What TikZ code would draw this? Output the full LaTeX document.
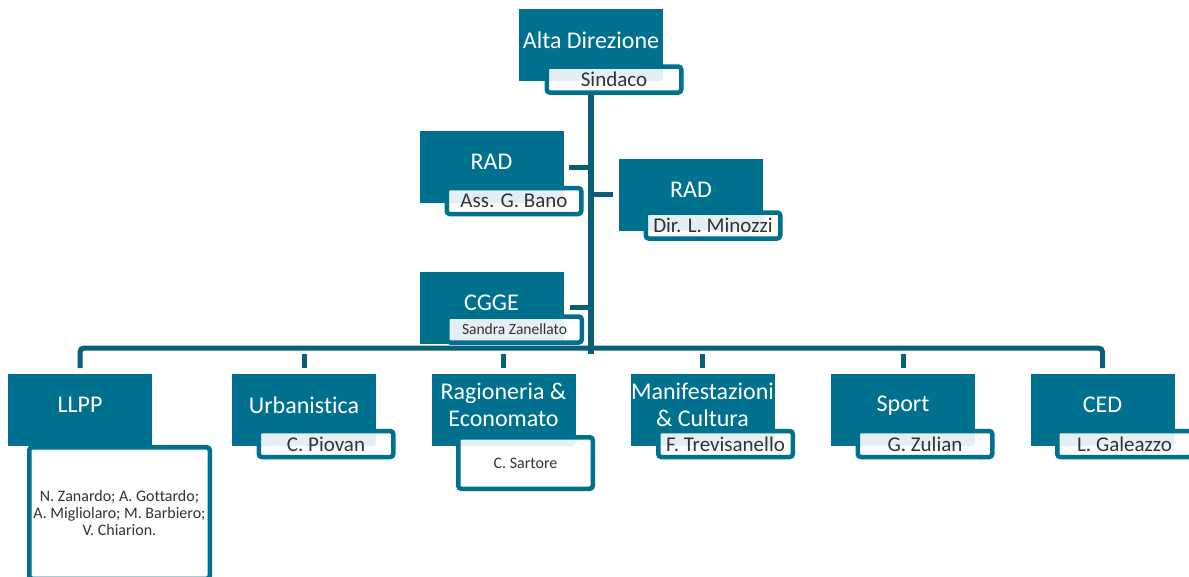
\documentclass[tikz,border=0pt]{standalone}
\usepackage{fontspec}
\setmainfont{Carlito}[Ligatures=NoCommon]
\definecolor{boxteal}{HTML}{00708F}
\definecolor{lineteal}{HTML}{0A5F78}
\definecolor{tint}{HTML}{E3EFF2}
\definecolor{labtext}{HTML}{333333}
\begin{document}
\begin{tikzpicture}[x=1pt,y=-1pt,
  mainbox/.style={fill=boxteal, minimum width=144pt, minimum height=72pt, inner sep=0pt, outer sep=0pt},
  maintext/.style={text=white, font=\fontsize{24}{27}\selectfont, align=center, inner sep=0pt},
  labbase/.style={draw=boxteal, fill=white, line width=4.5pt, rounded corners=3pt,
    minimum width=134.5pt, minimum height=26pt, inner sep=0pt, outer sep=0pt,
    text=labtext, font=\fontsize{21}{24}\selectfont, align=center},
  labtint/.style={labbase, path picture={\fill[tint] (path picture bounding box.north west) rectangle (#1.south east);}},
  conn/.style={draw=lineteal, line width=5pt},
  trunkline/.style={draw=lineteal, line width=6pt}
]
\clip (0,0) rectangle (1189,576);
\fill[white] (0,0) rectangle (1189,576);
% main boxes
\node[mainbox] (alta) at (591,45) {};
\node[mainbox] (rad1) at (491.5,167) {};
\node[mainbox] (rad2) at (691,194.5) {};
\node[mainbox] (cgge) at (491.5,307.5) {};
\node[mainbox] (llpp) at (80,410) {};
\node[mainbox] (urb) at (304,410) {};
\node[mainbox] (rag) at (503.5,410) {};
\node[mainbox] (man) at (702.5,410) {};
\node[mainbox] (sport) at (903,410) {};
\node[mainbox] (ced) at (1102.5,410) {};
% connectors
\coordinate (bus) at (591,354);
\draw[trunkline] (alta.south) -- (bus);
\draw[conn, rounded corners=4pt] ([yshift=6pt]llpp.north) |- ([yshift=6pt]ced.north |- bus) -- ([yshift=6pt]ced.north);
\foreach \n in {urb,rag,man,sport} {\draw[conn] ([yshift=6pt]\n.north) -- (\n.north |- bus);}
\draw[conn] ([xshift=5pt]rad1.east) -- (rad1.east -| bus);
\draw[conn] ([xshift=-6pt]rad2.west) -- (rad2.west -| bus);
\draw[conn] ([xshift=6pt]cgge.east) -- (cgge.east -| bus);
% labels
\node[labtint=alta] (sindaco) at (614,79.5) {Sindaco};
\node[labtint=rad1] (bano) at (514,201) {Ass. G. Bano};
\node[labtint=rad2] (minozzi) at (713,225.5) {Dir. L. Minozzi};
\node[labtint=cgge, font=\fontsize{15.5}{18}\selectfont] (zanellato) at (514.5,329.5) {Sandra Zanellato};
\node[labtint=urb] (piovan) at (326,444) {C. Piovan};
\node[labtint=man] (trevis) at (725.5,444) {F. Trevisanello};
\node[labtint=sport] (zulian) at (925,444) {G. Zulian};
\node[labtint=ced] (galeazzo) at (1124.5,444) {L. Galeazzo};
\node[labtint=rag, minimum height=51.5pt, font=\fontsize{16}{19}\selectfont] (sartore) at (525.5,463) {C. Sartore};
\node[labbase, minimum width=180.5pt, minimum height=131.5pt, font=\fontsize{16}{17}\selectfont] (names) at (119.5,513) {N. Zanardo; A. Gottardo;\\A. Migliolaro; M. Barbiero;\\V. Chiarion.};
% main texts
\node[maintext] (altaT) at ([yshift=5pt]alta.center) {Alta Direzione};
\node[maintext] (rad1T) at ([yshift=5pt]rad1.center) {RAD};
\node[maintext] (rad2T) at ([yshift=5pt]rad2.center) {RAD};
\node[maintext] (cggeT) at ([yshift=5pt]cgge.center) {CGGE};
\node[maintext] (llppT) at ([yshift=5pt]llpp.center) {LLPP};
\node[maintext] (urbT) at ([yshift=5pt]urb.center) {Urbanistica};
\node[maintext] (ragT) at ([yshift=5pt]rag.center) {Ragioneria \&\\Economato};
\node[maintext] (manT) at ([yshift=5pt]man.center) {Manifestazioni\\\& Cultura};
\node[maintext] (sportT) at ([yshift=4pt]sport.center) {\strut Sport};
\node[maintext] (cedT) at ([yshift=5pt]ced.center) {CED};
\end{tikzpicture}
\end{document}
